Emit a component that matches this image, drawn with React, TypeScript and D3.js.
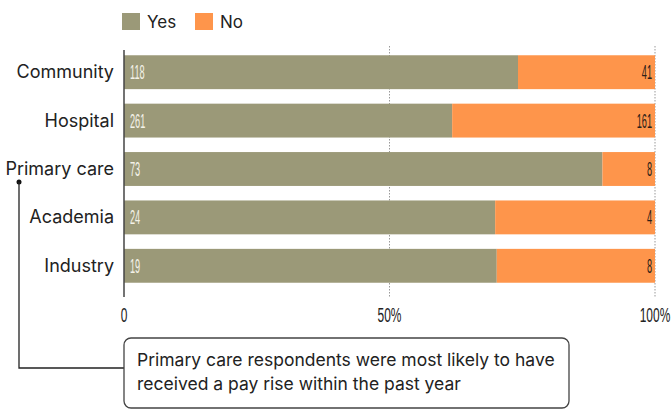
import React from "react";
import * as d3 from "d3";

const categories = ["Community", "Hospital", "Primary care", "Academia", "Industry"];
const yesCounts = [118, 261, 73, 24, 19];
const noCounts = [41, 161, 8, 4, 8];
// share of "Yes" as drawn in the picture (%)
const yesShare = [74.2, 61.8, 90.1, 69.9, 70.2];
const tickValues = [0, 50, 100];
const tickLabels = ["0", "50%", "100%"];
const seriesNames = ["Yes", "No"];
const noteText = [
  "Primary care respondents were most likely to have",
  "received a pay rise within the past year",
];

const W = 672;
const H = 411;
const YES = "#9b9978";
const NO = "#fe954b";
const SANS = "Inter, 'Liberation Sans', Arial, sans-serif";
const COND = "'Liberation Sans', Arial, sans-serif";

export default function App() {
  const x = d3.scaleLinear().domain([0, 100]).range([124, 655]);
  const y = d3.scaleBand().domain(categories).range([48, 290]).paddingInner(0.3).paddingOuter(0.15);
  const bw = y.bandwidth();

  return (
    <svg width={W} height={H} style={{ position: "absolute", left: 0, top: 0, background: "#fff" }}>
      {/* legend */}
      {seriesNames.map((s, i) => (
        <g key={s} transform={`translate(${122 + i * 73},13)`}>
          <rect width={18} height={17} fill={i === 0 ? YES : NO} />
          <text x={25} y={15} fontSize={17} fontFamily={SANS} fill="#222">{s}</text>
        </g>
      ))}

      {/* grid lines */}
      {tickValues.slice(1).map((t) => (
        <line key={t} x1={x(t)} x2={x(t)} y1={46} y2={297} stroke="#999" strokeWidth={1} strokeDasharray="1.5,1.5" />
      ))}

      {/* bars */}
      {categories.map((c, i) => {
        const y0 = y(c)!;
        const split = x(yesShare[i]);
        return (
          <g key={c}>
            <rect x={x(0)} y={y0} width={split - x(0)} height={bw} fill={YES} />
            <rect x={split} y={y0} width={x(100) - split} height={bw} fill={NO} />
            <text x={114} y={y0 + bw / 2 + 6} textAnchor="end" fontSize={18} fontFamily={SANS} fill="#222">{c}</text>
            <text transform={`translate(${x(0) + 6},${y0 + bw / 2 + 7}) scale(0.46,1)`} fontSize={20} fontFamily={COND} fill="#f4f2e8">{yesCounts[i]}</text>
            <text transform={`translate(${x(100) - 3},${y0 + bw / 2 + 7}) scale(0.46,1)`} textAnchor="end" fontSize={20} fontFamily={COND} fill="#2a2018">{noCounts[i]}</text>
          </g>
        );
      })}

      {/* axis line */}
      <line x1={x(0)} x2={x(0)} y1={50} y2={297} stroke="#444" strokeWidth={1.5} />

      {/* tick labels */}
      {tickValues.map((t, i) => (
        <text key={t} transform={`translate(${x(t)},${322}) scale(0.57,1)`} textAnchor="middle" fontSize={21} fontFamily={COND} fill="#222">{tickLabels[i]}</text>
      ))}

      {/* annotation connector */}
      <circle cx={19} cy={182} r={2.5} fill="#111" />
      <polyline points={`19,182 19,368 ${x(0)},368`} fill="none" stroke="#222" strokeWidth={1.3} />

      {/* annotation box */}
      <rect x={x(0)} y={338} width={445} height={70} rx={7} fill="#fff" stroke="#444" strokeWidth={1.3} />
      {noteText.map((l, i) => (
        <text key={i} x={137} y={366 + i * 24} fontSize={17.5} fontFamily={SANS} fill="#222">{l}</text>
      ))}
    </svg>
  );
}
